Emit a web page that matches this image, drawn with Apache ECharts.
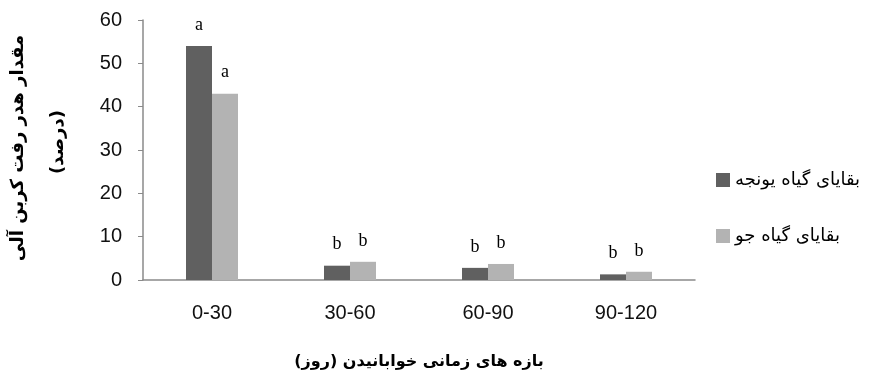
<!DOCTYPE html>
<html>
<head>
<meta charset="utf-8">
<script src="https://cdn.jsdelivr.net/npm/echarts@6/dist/echarts.min.js"></script>
<style>html,body{margin:0;padding:0;background:#fff}#c{width:871px;height:385px}</style>
</head>
<body>
<div id="c"></div>
<script>
var categories = ['0-30', '30-60', '60-90', '90-120'];
var seriesNames = ['بقایای گیاه یونجه', 'بقایای گیاه جو'];
var alfalfaValues = [54, 3.3, 2.8, 1.3];
var barleyValues = [43, 4.2, 3.7, 1.9];
var alfalfaLetters = ['a', 'b', 'b', 'b'];
var barleyLetters = ['a', 'b', 'b', 'b'];
var yTitleLine1 = 'مقدار هدر رفت کربن آلی';
var yTitleLine2 = '(درصد)';
var xTitle = 'بازه های زمانی خوابانیدن (روز)';

var chart = echarts.init(document.getElementById('c'));
var persian = 'DejaVu Sans';
var narrow = '"Liberation Sans Narrow", "Liberation Sans"';
function letterLabel(letters) {
  return {
    show: true, position: 'top', distance: 12,
    fontFamily: 'Liberation Serif', fontSize: 18, color: '#000',
    formatter: function (p) { return letters[p.dataIndex]; }
  };
}
chart.setOption({
  animation: false,
  grid: { left: 143, right: 176, top: 20, bottom: 105 },
  legend: {
    orient: 'vertical', left: 711, top: 166,
    itemWidth: 14, itemHeight: 14, itemGap: 38, icon: 'rect',
    textStyle: { fontFamily: persian, fontSize: 18, color: '#000' },
    data: seriesNames
  },
  xAxis: {
    type: 'category', data: categories,
    axisLine: { lineStyle: { color: '#8a8a8a', width: 1.5 } },
    axisTick: { show: false },
    axisLabel: { fontFamily: narrow, fontSize: 20, color: '#111', margin: 23 }
  },
  yAxis: {
    type: 'value', min: 0, max: 60, interval: 10,
    axisLine: { show: true, lineStyle: { color: '#8a8a8a', width: 1.5 } },
    axisTick: { show: true, length: 5, lineStyle: { color: '#8a8a8a' } },
    splitLine: { show: false },
    axisLabel: { fontFamily: narrow, fontSize: 20, color: '#111', margin: 21 }
  },
  series: [
    { name: seriesNames[0], type: 'bar', data: alfalfaValues, barWidth: 26, barGap: '0%',
      itemStyle: { color: '#606060' }, label: letterLabel(alfalfaLetters) },
    { name: seriesNames[1], type: 'bar', data: barleyValues, barWidth: 26, barGap: '0%',
      itemStyle: { color: '#b3b3b3' }, label: letterLabel(barleyLetters) }
  ],
  graphic: [
    { type: 'text', x: 18, y: 148, rotation: Math.PI / 2,
      style: { text: yTitleLine1, fontFamily: persian, fontWeight: 'bold', fontSize: 18,
               fill: '#000', align: 'center', verticalAlign: 'middle' } },
    { type: 'text', x: 58, y: 142, rotation: Math.PI / 2,
      style: { text: yTitleLine2, fontFamily: persian, fontWeight: 'bold', fontSize: 18,
               fill: '#000', align: 'center', verticalAlign: 'middle' } },
    { type: 'text', x: 419, y: 362,
      style: { text: xTitle, fontFamily: persian, fontWeight: 'bold', fontSize: 16,
               fill: '#000', align: 'center', verticalAlign: 'middle' } }
  ]
});
</script>
</body>
</html>
